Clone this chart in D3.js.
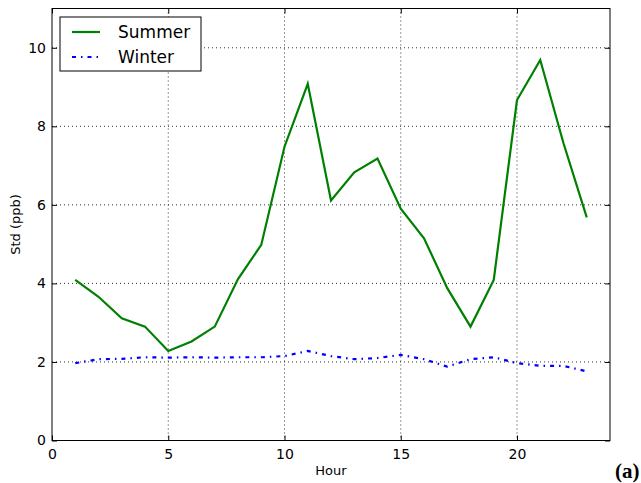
<!DOCTYPE html>
<html>
<head>
<meta charset="utf-8">
<script src="https://cdn.jsdelivr.net/npm/d3@7"></script>
<style>
  body { margin: 0; background: #fff; }
  svg { display: block; font-family: "DejaVu Sans", sans-serif; }
  .grid line { stroke: #000; stroke-dasharray: 1,3; stroke-width: 1; opacity: 0.8; }
</style>
</head>
<body>
<script>
// hourly std values
var hours = [1,2,3,4,5,6,7,8,9,10,11,12,13,14,15,16,17,18,19,20,21,22,23];
var summer = [4.09,3.66,3.11,2.90,2.28,2.52,2.90,4.11,4.98,7.48,9.08,6.11,6.83,7.18,5.90,5.15,3.88,2.90,4.09,8.67,9.69,7.57,5.68];
var winter = [1.97,2.07,2.08,2.12,2.11,2.12,2.11,2.12,2.12,2.15,2.28,2.15,2.07,2.10,2.18,2.07,1.88,2.07,2.12,1.97,1.90,1.90,1.76];
var xTicks = [0,5,10,15,20];
var yTicks = [0,2,4,6,8,10];

var W = 641, H = 483;
var margin = {top: 8.5, right: 31, bottom: 42.5, left: 52};
var width = W - margin.left - margin.right,
    height = H - margin.top - margin.bottom;

var svg = d3.select("body").append("svg")
    .attr("width", W)
    .attr("height", H);

var g = svg.append("g")
    .attr("transform", "translate(" + margin.left + "," + margin.top + ")");

var x = d3.scaleLinear().domain([0, 24]).range([0, width]);
var y = d3.scaleLinear().domain([0, 11]).range([height, 0]);

// grid
g.append("g").attr("class", "grid")
    .selectAll("line").data(xTicks.slice(1)).enter().append("line")
    .attr("x1", function(d){ return x(d); }).attr("x2", function(d){ return x(d); })
    .attr("y1", 0).attr("y2", height);
g.append("g").attr("class", "grid")
    .selectAll("line").data(yTicks.slice(1)).enter().append("line")
    .attr("y1", function(d){ return y(d); }).attr("y2", function(d){ return y(d); })
    .attr("x1", 0).attr("x2", width);

// axes, ticks pointing inward like old matplotlib
var xAxis = g.append("g")
    .attr("transform", "translate(0," + height + ")")
    .call(d3.axisBottom(x).tickValues(xTicks).tickSize(-5).tickPadding(9));
var yAxis = g.append("g")
    .call(d3.axisLeft(y).tickValues(yTicks).tickSize(-5).tickPadding(6));
g.append("g")
    .call(d3.axisTop(x).tickValues(xTicks).tickSize(-5).tickFormat(""));
g.append("g")
    .attr("transform", "translate(" + width + ",0)")
    .call(d3.axisRight(y).tickValues(yTicks).tickSize(-5).tickFormat(""));

g.selectAll(".domain").remove();
g.selectAll(".tick text")
    .style("font-family", "DejaVu Sans")
    .style("font-size", "14px")
    .attr("fill", "#000");

g.append("rect")
    .attr("width", width).attr("height", height)
    .attr("fill", "none").attr("stroke", "#000").attr("stroke-width", 1);

// lines
var line = d3.line()
    .x(function(d){ return x(d[0]); })
    .y(function(d){ return y(d[1]); });

g.append("path")
    .datum(d3.zip(hours, summer))
    .attr("d", line)
    .attr("fill", "none")
    .attr("stroke", "green")
    .attr("stroke-width", 2.2);

g.append("path")
    .datum(d3.zip(hours, winter))
    .attr("d", line)
    .attr("fill", "none")
    .attr("stroke", "blue")
    .attr("stroke-width", 2.2)
    .attr("stroke-dasharray", "4,5,1.5,5");

// legend
var leg = g.append("g").attr("transform", "translate(8,8.5)");
leg.append("rect")
    .attr("width", 141).attr("height", 54)
    .attr("fill", "#fff").attr("stroke", "#000").attr("stroke-width", 1);
var items = [["Summer", "green", null], ["Winter", "blue", "4,5,1.5,5"]];
items.forEach(function(it, i) {
    var yy = 15 + i * 25;
    leg.append("line")
        .attr("x1", 12).attr("x2", 40).attr("y1", yy).attr("y2", yy)
        .attr("stroke", it[1]).attr("stroke-width", 2.2)
        .attr("stroke-dasharray", it[2]);
    leg.append("text")
        .attr("x", 58).attr("y", yy + 6)
        .style("font-size", "17px")
        .text(it[0]);
});

// axis labels
svg.append("text")
    .attr("x", margin.left + width / 2).attr("y", 475)
    .attr("text-anchor", "middle")
    .style("font-size", "13px")
    .text("Hour");
svg.append("text")
    .attr("transform", "translate(20," + (margin.top + height / 2) + ") rotate(-90)")
    .attr("text-anchor", "middle")
    .style("font-size", "13px")
    .text("Std (ppb)");

svg.append("text")
    .attr("x", 615).attr("y", 478)
    .style("font-family", "Liberation Serif, serif")
    .style("font-weight", "bold")
    .style("font-size", "21px")
    .text("(a)");
</script>
</body>
</html>
